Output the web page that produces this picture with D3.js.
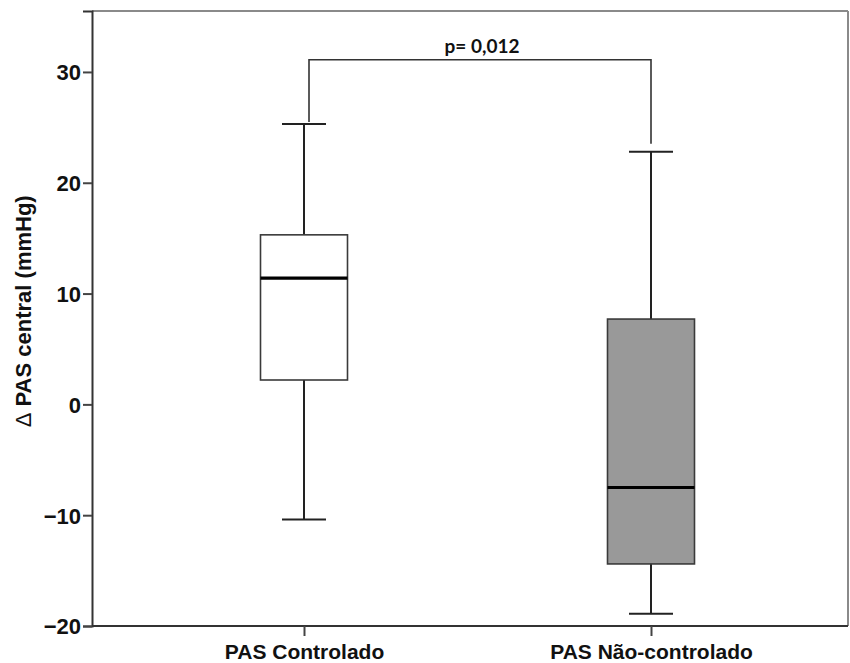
<!DOCTYPE html>
<html>
<head>
<meta charset="utf-8">
<script src="https://cdn.jsdelivr.net/npm/d3@7"></script>
<style>
  body { margin: 0; background: #fff; }
  svg { display: block; }
  text { font-family: "Liberation Sans", Arial, sans-serif; }
</style>
</head>
<body>
<script>
// data
var categories = ["PAS Controlado", "PAS Não-controlado"];
var whiskerHigh = [25.3, 22.8];
var q3 = [15.3, 7.7];
var median = [11.4, -7.5];
var q1 = [2.2, -14.4];
var whiskerLow = [-10.4, -18.9];
var fills = ["#ffffff", "#999999"];
var yTicks = [-20, -10, 0, 10, 20, 30];
var pLabel = "p= 0,012";
var bracketLevel = 31.1;

var W = 850, H = 663;
var margin = { top: 11, right: 2, bottom: 37, left: 92 };
var width = W - margin.left - margin.right;
var height = H - margin.top - margin.bottom;

var svg = d3.select("body").append("svg")
    .attr("width", W)
    .attr("height", H);

var g = svg.append("g")
    .attr("transform", "translate(" + margin.left + "," + margin.top + ")");

var y = d3.scaleLinear().domain([-20, 35.5]).range([height, 0]);
var x = d3.scalePoint().domain(categories).range([212, 559]);
var boxW = 87, capW = 44;

// frame (top and right in grey)
g.append("line").attr("x1", 0).attr("x2", width).attr("y1", 0).attr("y2", 0)
    .attr("stroke", "#8a8a8a").attr("stroke-width", 2);
g.append("line").attr("x1", width).attr("x2", width).attr("y1", 0).attr("y2", height)
    .attr("stroke", "#8a8a8a").attr("stroke-width", 2);

// axes
var yAxis = g.append("g")
    .call(d3.axisLeft(y).tickValues(yTicks).tickSize(9).tickPadding(2).tickFormat(d3.format("d")));
var xAxis = g.append("g")
    .attr("transform", "translate(0," + height + ")")
    .call(d3.axisBottom(x).tickSize(10).tickPadding(10));

[yAxis, xAxis].forEach(function (a) {
    a.select(".domain").attr("stroke", "#333").attr("stroke-width", 2);
    a.selectAll(".tick line").attr("stroke", "#444").attr("stroke-width", 2);
    a.selectAll("text")
        .attr("fill", "#111")
        .style("font-size", "22px")
        .style("font-weight", "bold");
});
xAxis.select(".domain").attr("d", "M0,0H" + width);
xAxis.selectAll(".tick text").attr("dy", "0.6em").style("font-size", "21px");
yAxis.selectAll(".tick text").attr("dy", "0.36em");

// y label
var yl = svg.append("text")
    .attr("transform", "translate(31," + (margin.top + y(8.4)) + ") rotate(-90)")
    .attr("text-anchor", "middle")
    .style("font-size", "22px")
    .style("font-weight", "bold")
    .attr("fill", "#111");
yl.append("tspan").style("font-weight", "normal").text("Δ");
yl.append("tspan").text(" PAS central (mmHg)");

// boxes
var box = g.selectAll(".box")
    .data(categories)
    .enter().append("g")
    .attr("class", "box");

box.append("line")
    .attr("x1", function (d) { return x(d); })
    .attr("x2", function (d) { return x(d); })
    .attr("y1", function (d, i) { return y(whiskerHigh[i]); })
    .attr("y2", function (d, i) { return y(whiskerLow[i]); })
    .attr("stroke", "#222").attr("stroke-width", 2);

box.append("rect")
    .attr("x", function (d) { return x(d) - boxW / 2; })
    .attr("width", boxW)
    .attr("y", function (d, i) { return y(q3[i]); })
    .attr("height", function (d, i) { return y(q1[i]) - y(q3[i]); })
    .attr("fill", function (d, i) { return fills[i]; })
    .attr("stroke", "#3a3a3a").attr("stroke-width", 1.6);

box.append("line")
    .attr("x1", function (d) { return x(d) - boxW / 2; })
    .attr("x2", function (d) { return x(d) + boxW / 2; })
    .attr("y1", function (d, i) { return y(median[i]); })
    .attr("y2", function (d, i) { return y(median[i]); })
    .attr("stroke", "#000").attr("stroke-width", 3.2);

[whiskerHigh, whiskerLow].forEach(function (arr) {
    box.append("line")
        .attr("x1", function (d) { return x(d) - capW / 2; })
        .attr("x2", function (d) { return x(d) + capW / 2; })
        .attr("y1", function (d, i) { return y(arr[i]); })
        .attr("y2", function (d, i) { return y(arr[i]); })
        .attr("stroke", "#222").attr("stroke-width", 2);
});

// significance bracket
var bx0 = x(categories[0]) + 5, bx1 = x(categories[1]);
g.append("path")
    .attr("d", "M" + bx0 + "," + (y(whiskerHigh[0]) - 2) +
        "V" + y(bracketLevel) + "H" + bx1 + "V" + (y(whiskerHigh[1]) - 8))
    .attr("fill", "none")
    .attr("stroke", "#333").attr("stroke-width", 1.6);

g.append("text")
    .attr("x", (bx0 + bx1) / 2 + 2)
    .attr("y", y(bracketLevel) - 7)
    .attr("text-anchor", "middle")
    .style("font-family", "Lato, 'Open Sans', sans-serif")
    .style("font-size", "19px")
    .style("font-weight", "bold")
    .attr("fill", "#111")
    .text(pLabel);
</script>
</body>
</html>
